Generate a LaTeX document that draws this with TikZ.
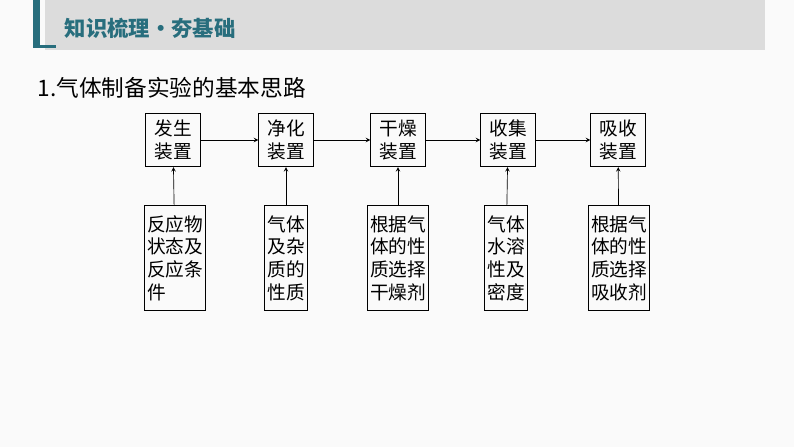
\documentclass[tikz,border=0pt]{standalone}
\usepackage{fontspec}
\setmainfont{Noto Sans CJK SC}
\usepackage{tikz}
\usetikzlibrary{positioning}
\definecolor{teal1}{RGB}{40,110,125}
\definecolor{band}{RGB}{220,220,220}
\tikzset{
  stage/.style={draw, line width=0.6pt, align=center, font=\fontsize{14}{17}\selectfont, inner sep=2pt},
  cause/.style={stage, anchor=north},
  flow/.style={->, >=stealth, line width=0.5pt}
}
\begin{document}
\begin{tikzpicture}[x=0.75pt, y=-0.75pt]
\useasboundingbox[fill=white!96!gray] (0,0) rectangle (794,447);
% header
\fill[band] (45,0) rectangle (765,50);
\fill[teal1] (33,0) rectangle (40,45);
\fill[teal1] (33,45) rectangle (56,48);
\node[anchor=west, text=teal1, font=\fontsize{16}{18}\selectfont\bfseries] (head) at (60,28) {知识梳理·夯基础};
\node[anchor=west, font=\fontsize{17}{19}\selectfont] (title) at (33,88) {1.气体制备实验的基本思路};
% stages
\node[stage, minimum width=41pt, minimum height=40pt] (s1) at (173,140) {发生\\装置};
\node[stage, minimum width=41pt, minimum height=40pt] (s2) at (286,140) {净化\\装置};
\node[stage, minimum width=41pt, minimum height=40pt] (s3) at (398,140) {干燥\\装置};
\node[stage, minimum width=41pt, minimum height=40pt] (s4) at (508,140) {收集\\装置};
\node[stage, minimum width=41pt, minimum height=40pt] (s5) at (618,140) {吸收\\装置};
\foreach \a/\b in {s1/s2,s2/s3,s3/s4,s4/s5}
  \draw[flow] (\a) -- (\b);
% causes
\node[cause, align=left, minimum height=79pt] (c1) at (175,205) {反应物\\状态及\\反应条\\件};
\node[cause, minimum height=79pt] (c2) at (286,205) {气体\\及杂\\质的\\性质};
\node[cause, minimum height=79pt] (c3) at (398,205) {根据气\\体的性\\质选择\\干燥剂};
\node[cause, minimum height=79pt] (c4) at (506,205) {气体\\水溶\\性及\\密度};
\node[cause, minimum height=79pt] (c5) at (619,205) {根据气\\体的性\\质选择\\吸收剂};
\foreach \i in {1,...,5}
  \draw[flow] (c\i) -- (s\i);
\end{tikzpicture}
\end{document}
